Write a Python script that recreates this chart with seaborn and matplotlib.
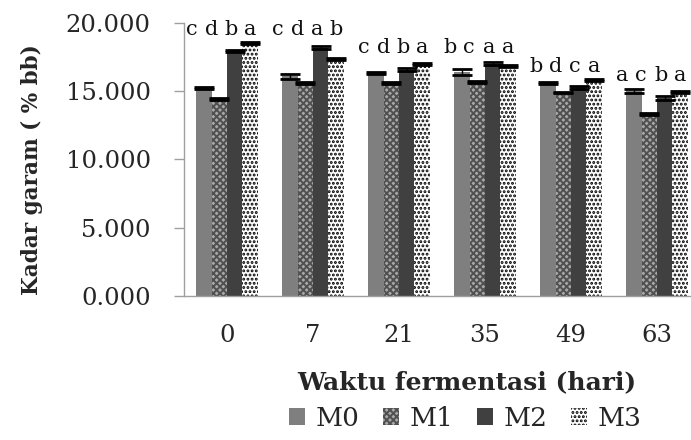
import matplotlib
matplotlib.use("Agg")
import matplotlib.pyplot as plt
from matplotlib.patches import Patch
import seaborn as sns
import pandas as pd
import numpy as np

# ---- data ----
days = ["0", "7", "21", "35", "49", "63"]
groups = ["M0", "M1", "M2", "M3"]
m0 = [15.23, 16.08, 16.32, 16.40, 15.57, 14.99]
m1 = [14.40, 15.60, 15.60, 15.67, 14.89, 13.33]
m2 = [17.90, 18.18, 16.57, 17.01, 15.26, 14.50]
m3 = [18.50, 17.35, 16.98, 16.84, 15.79, 14.91]
e0 = [0.08, 0.20, 0.08, 0.22, 0.06, 0.15]
e1 = [0.06, 0.06, 0.06, 0.10, 0.06, 0.08]
e2 = [0.08, 0.08, 0.08, 0.08, 0.10, 0.15]
e3 = [0.08, 0.08, 0.08, 0.08, 0.08, 0.08]
letters = [["c", "d", "b", "a"], ["c", "d", "a", "b"], ["c", "d", "b", "a"],
           ["b", "c", "a", "a"], ["b", "d", "c", "a"], ["a", "c", "b", "a"]]
letter_y = [19.5, 19.5, 18.2, 18.2, 16.8, 16.1]
yticks = [0, 5, 10, 15, 20]

values = [m0, m1, m2, m3]
errors = [e0, e1, e2, e3]
df = pd.DataFrame({
    "day": np.repeat([days], 4, axis=0).ravel(),
    "group": np.repeat(groups, len(days)),
    "val": np.concatenate(values),
})

sns.set_style("white")
plt.rcParams["font.family"] = ["DejaVu Serif"]
plt.rcParams["hatch.linewidth"] = 1.4

fig = plt.figure(figsize=(6.91, 4.40), dpi=100)
ax = fig.add_axes([0.2663, 0.3273, 0.7467, 0.6211])

face = ["#7f7f7f", "#a8a8a8", "#404040", "#ffffff"]
sns.barplot(data=df, x="day", y="val", hue="group", order=days, hue_order=groups,
            palette=face, width=0.72, errorbar=None, ax=ax, legend=False,
            linewidth=0, saturation=1)

hatches = [None, "xxxxx", None, "...."]
hcolors = ["#7f7f7f", "#505050", "#404040", "#000000"]
for cont, h, hc in zip(ax.containers, hatches, hcolors):
    for p in cont.patches:
        p.set_edgecolor(hc)
        p.set_linewidth(0)
        if h:
            p.set_hatch(h)

for cont, vals, errs in zip(ax.containers, values, errors):
    xs = [p.get_x() + p.get_width() / 2 for p in cont.patches]
    ax.errorbar(xs, vals, yerr=errs, fmt="none", ecolor="black",
                elinewidth=1, capsize=7, capthick=2)

# significance letters
for i, (labs, ly) in enumerate(zip(letters, letter_y)):
    for j, lab in enumerate(labs):
        ax.text(i - 0.07 + (j - 1.5) * 0.226, ly, lab, ha="center", va="center",
                fontsize=15, color="#111111")

ax.set_ylim(0, 20)
ax.set_xlim(-0.5, 5.5)
ax.set_yticks(yticks)
ax.set_yticklabels([f"{v:.3f}" for v in yticks], fontsize=17.5)
ax.set_xticks(range(len(days)))
ax.set_xticklabels(days, fontsize=17.5)
ax.set_xticks(np.arange(-0.5, len(days), 1), minor=True)
ax.tick_params(axis="x", which="major", length=0, pad=20)
ax.tick_params(axis="x", which="minor", length=6, color="#a0a0a0", width=1)
ax.tick_params(axis="y", length=7, color="#a0a0a0", width=1, pad=17, left=True)
ax.set_xlabel("")
ax.set_ylabel("")
for s in ["top", "right"]:
    ax.spines[s].set_visible(False)
for s in ["left", "bottom"]:
    ax.spines[s].set_color("#a0a0a0")
    ax.spines[s].set_linewidth(1)

fig.text(0.046, 0.614, "Kadar garam ( % bb)", rotation=90, ha="center", va="center",
         fontsize=15.5, fontweight="bold")
fig.text(0.676, 0.132, "Waktu fermentasi (hari)", ha="center", va="center",
         fontsize=18, fontweight="bold")

handles = [Patch(facecolor=f, edgecolor=hc, linewidth=0, hatch=h, label=g)
           for f, hc, h, g in zip(face, hcolors, hatches, groups)]
fig.legend(handles=handles, loc="center", bbox_to_anchor=(0.673, 0.05), ncol=4,
           frameon=False, fontsize=19, handlelength=0.6, handleheight=0.6,
           handletextpad=0.4, columnspacing=0.9, borderpad=0)

fig.savefig("out.png", dpi=100)
